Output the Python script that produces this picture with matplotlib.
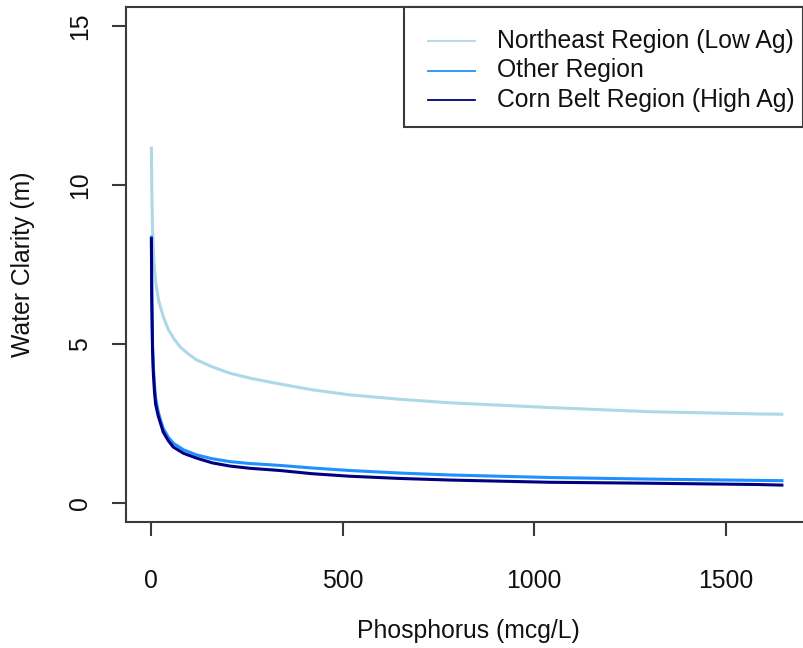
import matplotlib
matplotlib.use("Agg")
import matplotlib.pyplot as plt
from matplotlib.lines import Line2D
from matplotlib.patches import Rectangle

plt.rcParams["font.family"] = ["Liberation Sans", "DejaVu Sans"]

# Predicted water clarity (m) against total phosphorus (mcg/L) by region
phosphorus_ne = [1, 2, 4, 8, 12, 20, 32, 45, 60, 76, 95, 119, 160, 206, 260, 337,
                 420, 519, 650, 780, 1041, 1302, 1580, 1650]
clarity_ne = [11.2, 9.9, 8.6, 7.5, 6.95, 6.35, 5.85, 5.45, 5.15, 4.9, 4.7, 4.49, 4.27,
              4.07, 3.91, 3.73, 3.55, 3.39, 3.25, 3.14, 2.99, 2.86, 2.79, 2.78]

phosphorus_other = [1, 2, 4, 6, 9, 12, 19, 26, 32, 45, 58, 85, 119, 160, 206, 258, 337,
                    420, 519, 650, 780, 1041, 1302, 1580, 1650]
clarity_other = [8.4, 6.6, 5.0, 4.3, 3.7, 3.3, 2.85, 2.55, 2.33, 2.06, 1.87, 1.66, 1.50,
                 1.38, 1.29, 1.23, 1.17, 1.09, 1.01, 0.93, 0.87, 0.79, 0.74, 0.70, 0.69]

phosphorus_corn = [1, 2, 4, 6, 9, 12, 19, 26, 32, 45, 58, 85, 119, 160, 206, 258, 337,
                   420, 519, 650, 780, 1041, 1302, 1580, 1650]
clarity_corn = [8.35, 6.4, 4.8, 4.1, 3.5, 3.1, 2.72, 2.45, 2.22, 1.95, 1.75, 1.55, 1.40,
                1.25, 1.15, 1.08, 1.01, 0.91, 0.83, 0.76, 0.71, 0.64, 0.61, 0.57, 0.55]

region_labels = ["Northeast Region (Low Ag)", "Other Region", "Corn Belt Region (High Ag)"]
region_colors = ["#ADD8E6", "#1E90FF", "#000080"]

x_ticks = [0, 500, 1000, 1500]
y_ticks = [0, 5, 10, 15]

W, H = 804, 648
fig = plt.figure(figsize=(W / 100, H / 100), dpi=100)

# plot region in pixel terms (right edge runs just past the canvas)
left_px, right_px, top_px, bottom_px = 125.7, 808.7, 6.7, 521.7
ax = fig.add_axes([left_px / W, 1 - bottom_px / H,
                   (right_px - left_px) / W, (bottom_px - top_px) / H])

series = [(phosphorus_ne, clarity_ne), (phosphorus_other, clarity_other),
          (phosphorus_corn, clarity_corn)]
for (xs, ys), col in zip(series, region_colors):
    ax.plot(xs, ys, color=col, lw=2.2, solid_capstyle="butt", solid_joinstyle="round")

ax.set_xlim(-66, 1716)
ax.set_ylim(-0.6, 15.6)
ax.set_xticks(x_ticks)
ax.set_yticks(y_ticks)
ax.set_xticklabels([str(v) for v in x_ticks])
ax.set_yticklabels([str(v) for v in y_ticks], rotation=90, va="center")

axis_col = "#3a3a3a"
for s in ax.spines.values():
    s.set_color(axis_col)
    s.set_linewidth(1.5)
ax.tick_params(axis="both", length=10, width=1.5, color=axis_col, labelsize=17.8,
               labelcolor="#111111")
ax.tick_params(axis="x", pad=24)
ax.tick_params(axis="y", pad=14)

fig.text(468 / W, 1 - 631 / H, "Phosphorus (mcg/L)", ha="center", va="center",
         fontsize=17.8, color="#111111")
fig.text(23.5 / W, 1 - 264 / H, "Water Clarity (m)", ha="center", va="center",
         rotation=90, fontsize=17.8, color="#111111")

# legend box in the top-right corner of the plot region
leg_l, leg_r, leg_t, leg_b = 404.3, 803.0, 6.7, 127.3
fig.patches.append(Rectangle((leg_l / W, 1 - leg_b / H), (leg_r - leg_l) / W,
                             (leg_b - leg_t) / H, transform=fig.transFigure,
                             facecolor="white", edgecolor=axis_col, lw=1.5, zorder=5))
row_y = [41, 70.5, 100]
for yy, lab, col in zip(row_y, region_labels, region_colors):
    fig.lines.append(Line2D([428 / W, 475 / W], [1 - yy / H, 1 - yy / H],
                            transform=fig.transFigure, color=col, lw=1.3, zorder=6))
    fig.text(497 / W, 1 - yy / H, lab, ha="left", va="center", fontsize=17.8,
             color="#111111", zorder=6)

fig.savefig("out.png", dpi=100)
